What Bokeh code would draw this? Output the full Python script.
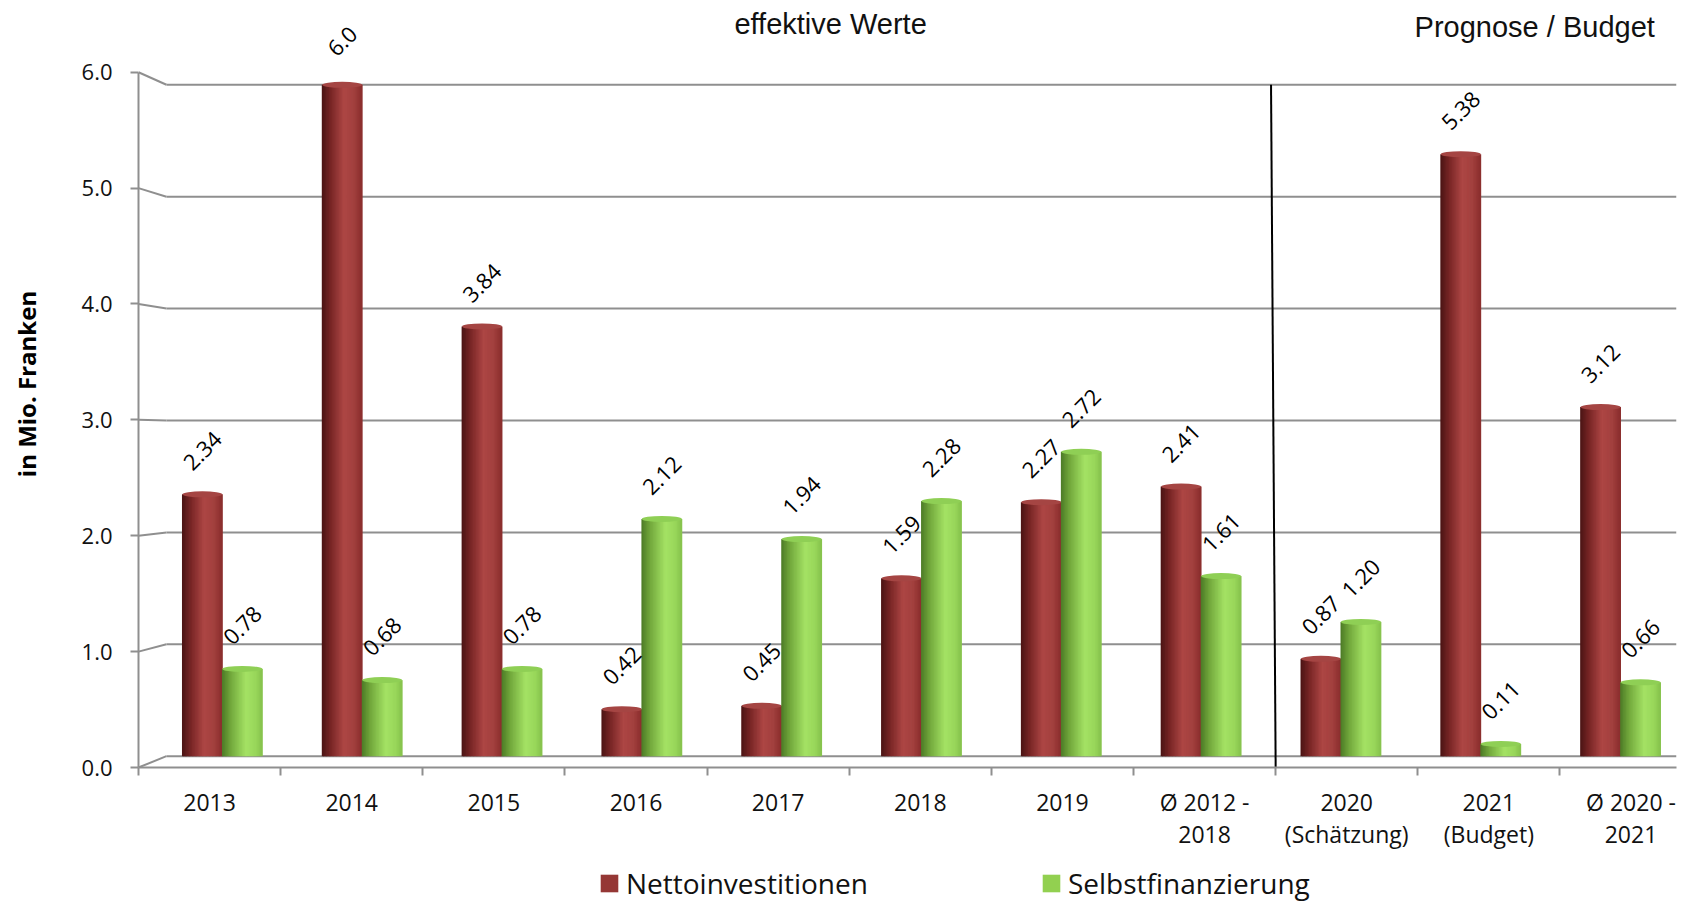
import math
from bokeh.plotting import figure
from bokeh.layouts import column
from bokeh.models import (Range1d, LinearAxis, FixedTicker, ColumnDataSource, Legend,
                          LegendItem, NumeralTickFormatter)
from bokeh.core.properties import value
from bokeh.embed import file_html
from bokeh.resources import INLINE

# ---------------- data ----------------
categories = ["2013", "2014", "2015", "2016", "2017", "2018", "2019",
              "Ø 2012 -\n2018", "2020\n(Schätzung)", "2021\n(Budget)", "Ø 2020 -\n2021"]
netto = [2.34, 6.0, 3.84, 0.42, 0.45, 1.59, 2.27, 2.41, 0.87, 5.38, 3.12]
netto_labels = ["2.34", "6.0", "3.84", "0.42", "0.45", "1.59", "2.27", "2.41", "0.87", "5.38", "3.12"]
selbst = [0.78, 0.68, 0.78, 2.12, 1.94, 2.28, 2.72, 1.61, 1.20, 0.11, 0.66]
selbst_labels = ["0.78", "0.68", "0.78", "2.12", "1.94", "2.28", "2.72", "1.61", "1.20", "0.11", "0.66"]
y_ticks = [0, 1, 2, 3, 4, 5, 6]
series_names = ["Nettoinvestitionen", "Selbstfinanzierung"]
series_colors = ["#953735", "#92d050"]
section_titles = ["effektive Werte", "Prognose / Budget"]
y_title = "in Mio. Franken"

# ---------------- layout / style ----------------
FONT = "Open Sans"
GRID = "#8f8f8f"
MAIN_X = (-0.6, 10.40)    # back wall (bars)
FRONT_X = (-0.5, 10.32)   # front axis
MAIN_Y = (-0.101, 6.753)
FRONT_Y = (0.0, 6.619)
BACK_X = -0.4
BAR_W = 0.286


def f2m_x(f):
    return MAIN_X[0] + (f - FRONT_X[0]) * (MAIN_X[1] - MAIN_X[0]) / (FRONT_X[1] - FRONT_X[0])


def f2m_y(f):
    return MAIN_Y[0] + (f - FRONT_Y[0]) * (MAIN_Y[1] - MAIN_Y[0]) / (FRONT_Y[1] - FRONT_Y[0])


def hex2rgb(h):
    h = h.lstrip("#")
    return tuple(int(h[i:i + 2], 16) for i in (0, 2, 4))


def grad(stops, t):
    for (t0, c0), (t1, c1) in zip(stops, stops[1:]):
        if t0 <= t <= t1:
            a = (t - t0) / (t1 - t0)
            r0, r1 = hex2rgb(c0), hex2rgb(c1)
            return "#%02x%02x%02x" % tuple(int(round(x + (y - x) * a)) for x, y in zip(r0, r1))
    return stops[-1][1]


RED_STOPS = [(0.0, "#4a1414"), (0.22, "#772525"), (0.55, "#ad4644"), (0.8, "#a2403e"), (1.0, "#8a2d2c")]
GREEN_STOPS = [(0.0, "#4c7a26"), (0.22, "#72a83c"), (0.6, "#a4e264"), (0.85, "#98d65a"), (1.0, "#86c24c")]

p = figure(width=1686, height=860, output_backend="svg", toolbar_location=None,
           x_range=Range1d(*MAIN_X), y_range=Range1d(*MAIN_Y),
           x_axis_location=None, y_axis_location=None,
           min_border_left=138, min_border_right=10, min_border_top=0, min_border_bottom=93)
p.extra_x_ranges = {"front": Range1d(*FRONT_X)}
p.extra_y_ranges = {"front": Range1d(*FRONT_Y)}
p.outline_line_color = None
p.xgrid.visible = False
p.ygrid.visible = False
p.background_fill_color = "white"
p.border_fill_color = "white"

# gridlines on back wall + connectors to front axis
gx0, gx1, gy0, gy1 = [], [], [], []
for v in y_ticks:
    gx0 += [BACK_X, f2m_x(FRONT_X[0])]
    gx1 += [MAIN_X[1], BACK_X]
    gy0 += [v, f2m_y(v)]
    gy1 += [v, v]
p.segment(x0=gx0, y0=gy0, x1=gx1, y1=gy1, line_color=GRID, line_width=2)

# cylinder-like bars as gradient strips
N = 28
for vals, off, stops, cap in ((netto, -BAR_W / 2, RED_STOPS, "#a54543"),
                              (selbst, BAR_W / 2, GREEN_STOPS, "#8fcf55")):
    xs, tops, cols = [], [], []
    for i, v in enumerate(vals):
        left = i + off - BAR_W / 2
        for k in range(N):
            xs.append(left + (k + 0.5) * BAR_W / N)
            tops.append(v)
            cols.append(grad(stops, (k + 0.5) / N))
    src = ColumnDataSource(dict(x=xs, top=tops, c=cols))
    p.vbar(x="x", top="top", bottom=0, width=BAR_W / N * 1.6, fill_color="c",
           line_color=None, source=src)
    p.ellipse(x=[i + off for i in range(len(vals))], y=vals, width=BAR_W, height=6,
              height_units="screen", fill_color=cap, line_color=None)

# value labels
for vals, labs, off in ((netto, netto_labels, -BAR_W / 2), (selbst, selbst_labels, BAR_W / 2)):
    p.text(x=[i + off for i in range(len(vals))], y=[v + 0.39 for v in vals], text=labs,
           angle=math.pi / 4, text_align="center", text_baseline="middle",
           text_font=value(FONT), text_font_size="22px", text_color="#000000")

# divider between actual and forecast
p.segment(x0=[7.5], y0=[6.0], x1=[f2m_x(7.5)], y1=[MAIN_Y[0]], line_color="black", line_width=2)

# section titles
p.text(x=[4.35, 9.386], y=[6.545, 6.518], text=section_titles, text_align="center",
       text_baseline="alphabetic", text_font=value("Liberation Sans"),
       text_font_size="29px", text_color="#111111")

# axes
yaxis = LinearAxis(y_range_name="front", ticker=FixedTicker(ticks=y_ticks),
                   formatter=NumeralTickFormatter(format="0.0"), bounds=(0, 6))
yaxis.axis_line_color = GRID
yaxis.axis_line_width = 2
yaxis.major_tick_line_color = GRID
yaxis.major_tick_line_width = 2
yaxis.major_tick_out = 8
yaxis.major_tick_in = 0
yaxis.minor_tick_line_color = None
yaxis.major_label_standoff = 18
yaxis.major_label_text_font = FONT
yaxis.major_label_text_font_size = "22px"
yaxis.major_label_text_color = "#111111"
yaxis.axis_label = y_title
yaxis.axis_label_text_font = FONT
yaxis.axis_label_text_font_style = "bold"
yaxis.axis_label_text_font_size = "24px"
yaxis.axis_label_text_color = "#000000"
yaxis.axis_label_standoff = 36
p.add_layout(yaxis, "left")

xaxis = LinearAxis(x_range_name="front",
                   ticker=FixedTicker(ticks=list(range(len(categories))),
                                      minor_ticks=[k - 0.5 for k in range(len(categories) + 1)]),
                   major_label_overrides={i: c for i, c in enumerate(categories)})
xaxis.axis_line_color = GRID
xaxis.axis_line_width = 2
xaxis.major_tick_line_color = None
xaxis.major_tick_out = 0
xaxis.major_tick_in = 0
xaxis.minor_tick_line_color = GRID
xaxis.minor_tick_line_width = 2
xaxis.minor_tick_out = 8
xaxis.minor_tick_in = 0
xaxis.major_label_standoff = 10
xaxis.major_label_text_font = FONT
xaxis.major_label_text_font_size = "23px"
xaxis.major_label_text_line_height = 1.0
xaxis.major_label_text_color = "#111111"
p.add_layout(xaxis, "below")

# legend strip (separate small figure so nothing is clipped)
lg = figure(width=1686, height=44, output_backend="svg", toolbar_location=None,
            x_range=Range1d(0, 1), y_range=Range1d(0, 1),
            x_axis_location=None, y_axis_location=None,
            min_border_left=0, min_border_right=0, min_border_top=0, min_border_bottom=0)
lg.outline_line_color = None
lg.xgrid.visible = False
lg.ygrid.visible = False
# legend swatch renderers: zero-height bars, only their legend glyph shows
r_red = lg.vbar(x=[0.5], top=[0], bottom=0, width=0.1, fill_color=series_colors[0], line_color=None)
r_green = lg.vbar(x=[0.5], top=[0], bottom=0, width=0.1, fill_color=series_colors[1], line_color=None)
legend = Legend(items=[LegendItem(label=series_names[0], renderers=[r_red]),
                       LegendItem(label=series_names[1], renderers=[r_green])],
                orientation="horizontal", location=(460, 2),
                glyph_width=22, glyph_height=22, label_standoff=6, spacing=172,
                padding=0, margin=0, border_line_color=None, background_fill_alpha=0,
                label_text_font=FONT, label_text_font_size="28px", label_text_color="#111111")
lg.add_layout(legend)

layout = column(p, lg, spacing=0)
open("out.html", "w").write(file_html(layout, INLINE))
